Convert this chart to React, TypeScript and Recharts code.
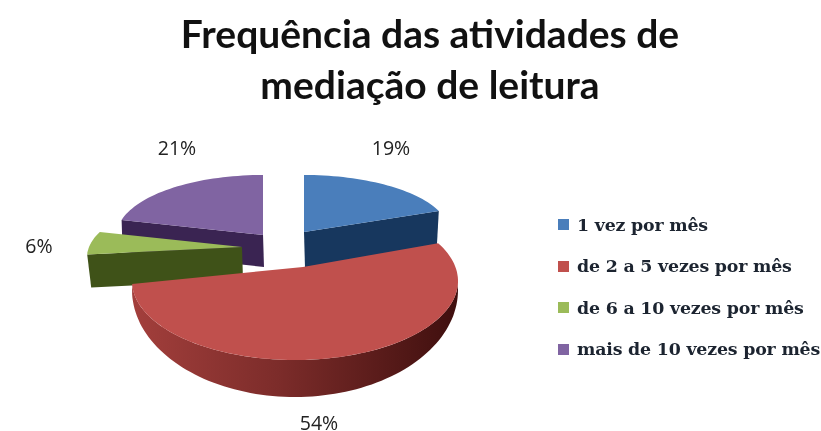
import { PieChart, Pie, Legend } from 'recharts';

const CATEGORIES = ['1 vez por mês', 'de 2 a 5 vezes por mês', 'de 6 a 10 vezes por mês', 'mais de 10 vezes por mês'];
const PERCENTAGES = [19, 54, 6, 21];
const TITLE_LINES = ['Frequência das atividades de', 'mediação de leitura'];
const COLORS = ['#4a7ebb', '#c0504d', '#9bbb59', '#8064a2'];
const SIDE_COLORS = ['#17375e', 'url(#redWall)', '#3f5218', '#3a2452'];

// back to front, the red slice sits over its neighbours
const PAINT_ORDER = [3, 0, 2, 1];

// hand fitted to fake the tilted 3D look: offsets from the pie centre, in px
const SLICE_LOOK = [
  { ax: 21, ay: -18, ex: 21, ey: -18, rx: 1.45, ry: 0.57, depth: 36, lean: -2, startShift: 0, endShift: 0, shear: 0, cut: 'end', labelX: 108, labelY: -103 },
  { ax: 20, ay: 17, ex: 12, ey: 31, rx: 1.63, ry: 0.79, depth: 36, lean: 0, startShift: -7, endShift: 5, shear: 0, cut: 'wall', labelX: 36, labelY: 172 },
  { ax: -41, ay: -3, ex: -41, ey: -3, rx: 1.53, ry: 0.6, depth: 33, lean: 4, startShift: 0, endShift: 0, shear: -0.4, cut: 'start', labelX: -244, labelY: -5 },
  { ax: -20, ay: -15, ex: -20, ey: -15, rx: 1.46, ry: 0.6, depth: 32, lean: 1, startShift: 0, endShift: 0, shear: 0, cut: 'start', labelX: -106, labelY: -103 },
];

const chartData = CATEGORIES.map((name, i) => ({ name, value: PERCENTAGES[i], fill: COLORS[i] }));

const ellipseArc = (
  x0: number, y0: number, rx: number, ry: number, from: number, to: number, shear = 0,
) => {
  const pts: number[][] = [];
  const steps = Math.max(2, Math.ceil(Math.abs(to - from) / 2));
  for (let i = 0; i <= steps; i++) {
    const a = ((from + ((to - from) * i) / steps) * Math.PI) / 180;
    const dy = -ry * Math.cos(a);
    pts.push([x0 + rx * Math.sin(a) + shear * dy, y0 + dy]);
  }
  return pts;
};

const toPath = (pts: number[][]) => 'M' + pts.map((p) => `${p[0].toFixed(1)},${p[1].toFixed(1)}`).join('L') + 'Z';

function Slice(props: any) {
  const { cx, cy, outerRadius, startAngle, endAngle, index } = props;
  const look = SLICE_LOOK[index];
  const from = 90 - startAngle + look.startShift;
  const to = 90 - endAngle + look.endShift;
  const rx = outerRadius * look.rx;
  const ry = outerRadius * look.ry;
  const apex = [cx + look.ax, cy + look.ay];
  const arc = ellipseArc(cx + look.ex, cy + look.ey, rx, ry, from, to, look.shear);
  const edge = look.cut === 'end' ? arc[arc.length - 1] : arc[0];

  let side: number[][];
  if (look.cut === 'wall') {
    // front wall is wider at the bottom because of the perspective
    const topArc = ellipseArc(cx + look.ex, cy + look.ey, rx, ry, 90, to);
    const bottomArc = ellipseArc(cx + look.ex, cy + look.ey + 9, rx, ry + look.depth - 8, to, 90);
    side = [...topArc, ...bottomArc];
  } else {
    side = [apex, edge, [edge[0] + look.lean, edge[1] + look.depth], [apex[0] + 1, apex[1] + look.depth]];
  }

  return (
    <g>
      <path d={toPath(side)} fill={SIDE_COLORS[index]} />
      <path d={toPath([apex, ...arc])} fill={COLORS[index]} />
    </g>
  );
}

const renderLabel = (props: any) => {
  const look = SLICE_LOOK[props.index];
  return (
    <text
      x={props.cx + look.labelX}
      y={props.cy + look.labelY}
      textAnchor="middle"
      dominantBaseline="central"
      fontFamily="'Open Sans', sans-serif"
      fontSize={19.5}
      fill="#222"
    >
      {`${props.value}%`}
    </text>
  );
};

function LegendList() {
  return (
    <div style={{ fontFamily: "'DejaVu Serif', serif", fontWeight: 700, fontSize: 17.4, letterSpacing: -0.2, color: '#1c2430' }}>
      {CATEGORIES.map((name, i) => (
        <div key={name} style={{ display: 'flex', alignItems: 'center', height: 41.5, whiteSpace: 'nowrap' }}>
          <span style={{ width: 11, height: 11, background: COLORS[i], marginRight: 8, flex: 'none' }} />
          {name}
        </div>
      ))}
    </div>
  );
}

export default function App() {
  return (
    <div style={{ position: 'absolute', left: 0, top: 0, width: 821, height: 431, background: '#fff', filter: 'blur(0.5px)' }}>
      <PieChart width={821} height={431} margin={{ top: 0, right: 0, bottom: 0, left: 0 }}>
        <defs>
          <linearGradient id="redWall" x1="0" y1="0" x2="1" y2="0">
            <stop offset="0" stopColor="#a33f3c" />
            <stop offset="0.45" stopColor="#7c2c2a" />
            <stop offset="1" stopColor="#3f0f0e" />
          </linearGradient>
        </defs>
        {TITLE_LINES.map((line, i) => (
          <text
            key={line}
            x={430}
            y={48 + i * 51}
            textAnchor="middle"
            fontFamily="Lato, sans-serif"
            fontWeight={700}
            fontSize={39}
            fill="#111"
          >
            {line}
          </text>
        ))}
        {PAINT_ORDER.map((sliceIndex, pass) => (
          <Pie
            key={sliceIndex}
            data={chartData}
            dataKey="value"
            nameKey="name"
            cx={283}
            cy={250}
            outerRadius={100}
            startAngle={90}
            endAngle={-270}
            stroke="none"
            isAnimationActive={false}
            legendType={pass === 0 ? 'square' : 'none'}
            labelLine={false}
            label={pass === 0 ? renderLabel : false}
            shape={(props: any) => (props.index === sliceIndex ? <Slice {...props} /> : <g />)}
          />
        ))}
        <Legend content={<LegendList />} wrapperStyle={{ left: 558, top: 204, width: 263, bottom: 'auto' }} />
      </PieChart>
    </div>
  );
}
